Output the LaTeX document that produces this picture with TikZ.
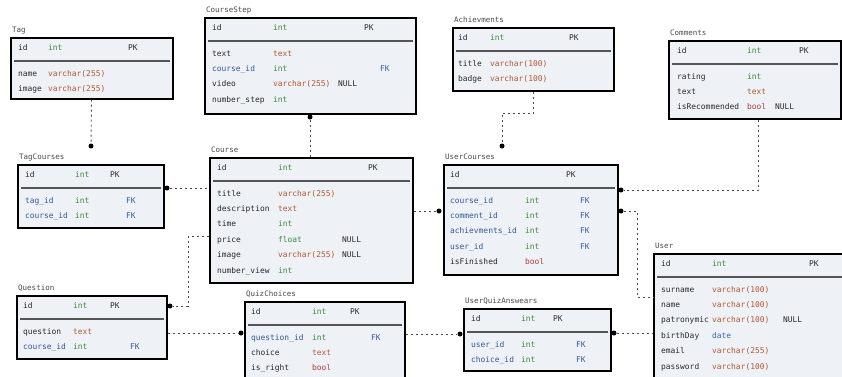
\documentclass[tikz,border=0pt]{standalone}
\usepackage{fontspec}
\setmonofont{DejaVu Sans Mono}
\definecolor{boxfill}{HTML}{EEF2F6}
\definecolor{ink}{HTML}{2A2A2A}
\definecolor{fkblue}{HTML}{34589A}
\definecolor{intgreen}{HTML}{3C8A3C}
\definecolor{strbrown}{HTML}{B5562E}
\definecolor{boolred}{HTML}{B23A3A}
\definecolor{datablue}{HTML}{3F62B0}
\tikzset{tbl/.style={draw=black, line width=1.7pt, fill=boxfill, anchor=north west, inner sep=0pt},
         tname/.style={anchor=base west, inner sep=0pt, text=ink!85, font=\ttfamily\fontsize{7.5}{9}\selectfont},
         cell/.style={anchor=west, inner sep=0pt, text height=5.8pt, text depth=1.6pt, text=ink,
                      font=\ttfamily\fontsize{7.9}{9}\selectfont},
         fk/.style={text=fkblue},
         tint/.style={text=intgreen},
         tstr/.style={text=strbrown},
         tbool/.style={text=boolred},
         tdate/.style={text=datablue},
         sep/.style={draw=ink!80, line width=1.3pt},
         rel/.style={draw=ink!85, line width=0.9pt, dash pattern=on 2pt off 3pt},
         dot/.style={circle, fill=black, inner sep=0pt, minimum size=5pt},
         }
% header row, title and rule of a table
\newcommand\ehead[3]{%
  \node[cell] (#1-id) at ([shift={(\ca,11)}]#1.north west) {id};
  \node[cell,tint] (#1-idt) at ([shift={(\cb,11)}]#1.north west) {#2};
  \node[cell] (#1-pk) at ([shift={(\cd,11)}]#1.north west) {PK};
  \draw[sep] ([shift={(4,24)}]#1.north west) -- ([shift={(-4,24)}]#1.north east);
  \node[tname] (#1-title) at ([shift={(2,-4.5)}]#1.north west) {#3};
}
% one field row
\newcommand\erow[6]{%
  \pgfmathsetmacro\ry{21.6+15.4*#2}
  \node[cell,#3] (#1-#2n) at ([shift={(\ca,\ry)}]#1.north west) {#4};
  \node[cell,#5] (#1-#2t) at ([shift={(\cb,\ry)}]#1.north west) {#6};
}
\newcommand\enull[2]{\pgfmathsetmacro\ry{21.6+15.4*#2}
  \node[cell] (#1-#2z) at ([shift={(\cc,\ry)}]#1.north west) {NULL};}
\newcommand\efk[2]{\pgfmathsetmacro\ry{21.6+15.4*#2}
  \node[cell,fk] (#1-#2k) at ([shift={(\ce,\ry)}]#1.north west) {FK};}

\begin{document}
\begin{tikzpicture}[x=1pt, y=-1pt]
    \useasboundingbox (0,0) rectangle (842,376);

    % tables
    \node[tbl, minimum width=162pt, minimum height=61pt] (tag) at (10,37) {};
    \node[tbl, minimum width=211pt, minimum height=96pt] (cstep) at (204,17) {};
    \node[tbl, minimum width=161pt, minimum height=63pt] (ach) at (452,27) {};
    \node[tbl, minimum width=172pt, minimum height=78pt] (com) at (668,40) {};
    \node[tbl, minimum width=146pt, minimum height=63pt] (tagc) at (17,164) {};
    \node[tbl, minimum width=203pt, minimum height=125pt] (course) at (209,157) {};
    \node[tbl, minimum width=174pt, minimum height=110pt] (ucourse) at (443,164) {};
    \node[tbl, minimum width=192pt, minimum height=125pt] (user) at (653,253) {};
    \node[tbl, minimum width=150pt, minimum height=63pt] (quest) at (16,295) {};
    \node[tbl, minimum width=160pt, minimum height=80pt] (quiz) at (244,301) {};
    \node[tbl, minimum width=147pt, minimum height=62pt] (uqa) at (463,308) {};

    % Tag
    \def\ca{8}\def\cb{38}\def\cd{118}
    \ehead{tag}{int}{Tag}
    \erow{tag}{1}{}{name}{tstr}{varchar(255)}
    \erow{tag}{2}{}{image}{tstr}{varchar(255)}

    % CourseStep
    \def\ca{8}\def\cb{69}\def\cc{134}\def\cd{160}\def\ce{176}
    \ehead{cstep}{int}{CourseStep}
    \erow{cstep}{1}{}{text}{tstr}{text}
    \erow{cstep}{2}{fk}{course\_id}{tint}{int}\efk{cstep}{2}
    \erow{cstep}{3}{}{video}{tstr}{varchar(255)}\enull{cstep}{3}
    \erow{cstep}{4}{}{number\_step}{tint}{int}

    % Achievments
    \def\ca{6}\def\cb{38}\def\cd{117}
    \ehead{ach}{int}{Achievments}
    \erow{ach}{1}{}{title}{tstr}{varchar(100)}
    \erow{ach}{2}{}{badge}{tstr}{varchar(100)}

    % Comments
    \def\ca{9}\def\cb{79}\def\cc{107}\def\cd{131}
    \ehead{com}{int}{Comments}
    \erow{com}{1}{}{rating}{tint}{int}
    \erow{com}{2}{}{text}{tstr}{text}
    \erow{com}{3}{}{isRecommended}{tbool}{bool}\enull{com}{3}

    % TagCourses
    \def\ca{8}\def\cb{58}\def\cd{93}\def\ce{109}
    \ehead{tagc}{int}{TagCourses}
    \erow{tagc}{1}{fk}{tag\_id}{tint}{int}\efk{tagc}{1}
    \erow{tagc}{2}{fk}{course\_id}{tint}{int}\efk{tagc}{2}

    % Course
    \def\ca{8}\def\cb{69}\def\cc{133}\def\cd{159}
    \ehead{course}{int}{Course}
    \erow{course}{1}{}{title}{tstr}{varchar(255)}
    \erow{course}{2}{}{description}{tstr}{text}
    \erow{course}{3}{}{time}{tint}{int}
    \erow{course}{4}{}{price}{tint}{float}\enull{course}{4}
    \erow{course}{5}{}{image}{tstr}{varchar(255)}\enull{course}{5}
    \erow{course}{6}{}{number\_view}{tint}{int}

    % UserCourses
    \def\ca{7}\def\cb{82}\def\cd{123}\def\ce{137}
    \ehead{ucourse}{}{UserCourses}
    \erow{ucourse}{1}{fk}{course\_id}{tint}{int}\efk{ucourse}{1}
    \erow{ucourse}{2}{fk}{comment\_id}{tint}{int}\efk{ucourse}{2}
    \erow{ucourse}{3}{fk}{achievments\_id}{tint}{int}\efk{ucourse}{3}
    \erow{ucourse}{4}{fk}{user\_id}{tint}{int}\efk{ucourse}{4}
    \erow{ucourse}{5}{}{isFinished}{tbool}{bool}

    % User
    \def\ca{8}\def\cb{59}\def\cc{130}\def\cd{156}
    \ehead{user}{int}{User}
    \erow{user}{1}{}{surname}{tstr}{varchar(100)}
    \erow{user}{2}{}{name}{tstr}{varchar(100)}
    \erow{user}{3}{}{patronymic}{tstr}{varchar(100)}\enull{user}{3}
    \erow{user}{4}{}{birthDay}{tdate}{date}
    \erow{user}{5}{}{email}{tstr}{varchar(255)}
    \erow{user}{6}{}{password}{tstr}{varchar(100)}

    % Question
    \def\ca{7}\def\cb{57}\def\cd{94}\def\ce{114}
    \ehead{quest}{int}{Question}
    \erow{quest}{1}{}{question}{tstr}{text}
    \erow{quest}{2}{fk}{course\_id}{tint}{int}\efk{quest}{2}

    % QuizChoices
    \def\ca{7}\def\cb{68}\def\cd{106}\def\ce{127}
    \ehead{quiz}{int}{QuizChoices}
    \erow{quiz}{1}{fk}{question\_id}{tint}{int}\efk{quiz}{1}
    \erow{quiz}{2}{}{choice}{tstr}{text}
    \erow{quiz}{3}{}{is\_right}{tbool}{bool}

    % UserQuizAnswears
    \def\ca{8}\def\cb{58}\def\cd{90}\def\ce{113}
    \ehead{uqa}{int}{UserQuizAnswears}
    \erow{uqa}{1}{fk}{user\_id}{tint}{int}\efk{uqa}{1}
    \erow{uqa}{2}{fk}{choice\_id}{tint}{int}\efk{uqa}{2}

    % relation ends
    \node[dot] (d-tagc) at (91,146) {};
    \node[dot] (d-cstep) at (310,117) {};
    \node[dot] (d-ach) at (502,146) {};
    \node[dot] (d-com) at (621,190) {};
    \node[dot] (d-tc) at (167,188) {};
    \node[dot] (d-uc) at (439,211) {};
    \node[dot] (d-quest) at (170,306) {};
    \node[dot] (d-quiz) at (241,333) {};
    \node[dot] (d-uqa) at (460,334) {};
    \node[dot] (d-uqa2) at (614,333) {};
    \node[dot] (d-user) at (621,211) {};

    % relations
    \draw[rel] (tag) -- (d-tagc);
    \draw[rel] (d-cstep) -- (d-cstep |- course.north);
    \draw[rel] (ach.south) -- ++(0,22) -| (d-ach);
    \draw[rel] ([xshift=4pt]com.south) |- (d-com);
    \draw[rel] (d-tc) -- (d-tc -| course.west);
    \draw[rel] (course.east |- d-uc) -- (d-uc);
    \draw[rel] ([shift={(0,16.5)}]course.west) -- ++(-21,0) |- (d-quest);
    \draw[rel] (quest.east |- d-quiz) -- (d-quiz);
    \draw[rel] (quiz.east |- d-uqa) -- (d-uqa);
    \draw[rel] (d-uqa2) -- (d-uqa2 -| user.west);
    \draw[rel] (d-user) -- ++(16,0) |- ([shift={(0,44)}]user.north west);
\end{tikzpicture}
\end{document}
